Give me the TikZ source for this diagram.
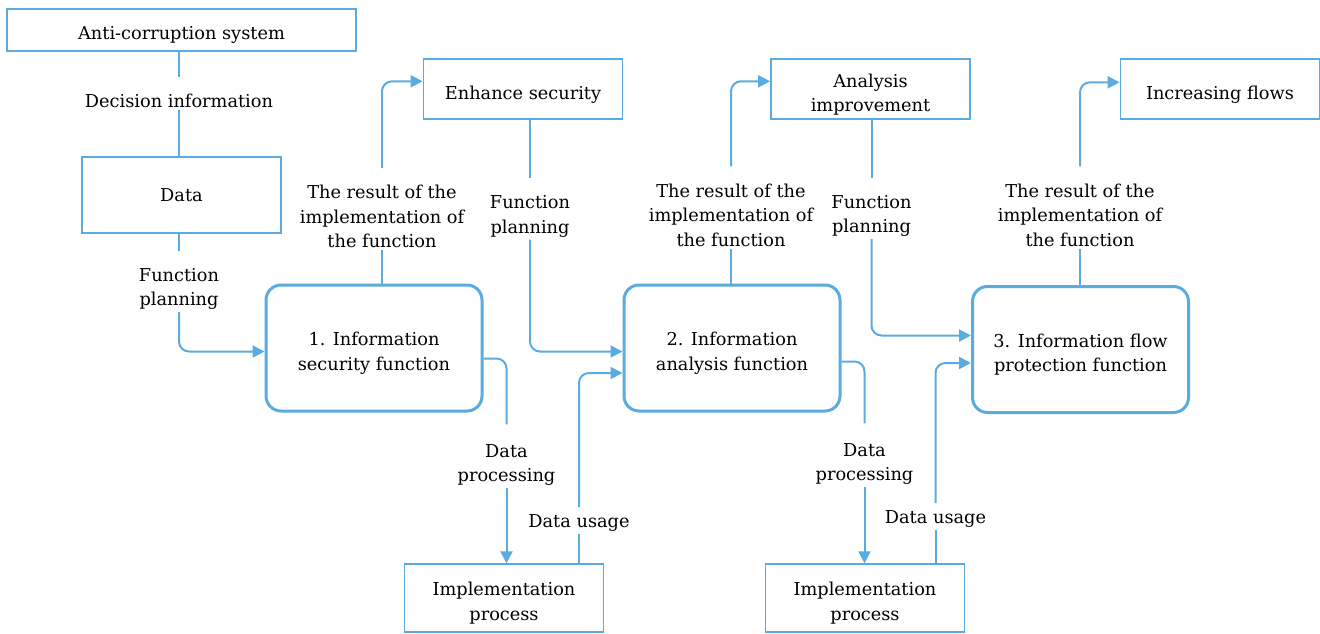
\documentclass[tikz,border=0pt]{standalone}
\usepackage{fontspec}
\setmainfont{DejaVu Serif}
\usetikzlibrary{arrows.meta}
\definecolor{flowblue}{RGB}{90,172,224}
\newcommand{\lowertext}[1]{\raisebox{-3pt}[\height][\depth]{#1}}

\begin{document}
\begin{tikzpicture}[
    font=\fontsize{10.1}{13.9}\selectfont,
    box/.style={draw=flowblue, line width=0.035cm, minimum width=3.98cm, minimum height=1.20cm, align=center, inner sep=0pt},
    func/.style={draw=flowblue, line width=0.06cm, rounded corners=0.3cm, minimum width=4.32cm, minimum height=2.52cm, align=center},
    lbl/.style={align=center, inner sep=0.04cm},
    link/.style={draw=flowblue, line width=0.04cm, rounded corners=0.2cm},
    flow/.style={link, -{Triangle[length=0.24cm, width=0.24cm]}},
    ]
    \useasboundingbox (0,0) rectangle (26.4,12.66);

    % Drawing the outer boxes
    \node[box, minimum width=6.98cm, minimum height=0.84cm] (anti) at (3.63,12.06) {\lowertext{Anti-corruption system}};%
    \node[box, minimum height=1.52cm] (data) at (3.63,8.76) {Data};%
    \node[box] (sec) at (10.46,10.874) {\lowertext{Enhance security}};%
    \node[box] (ana) at (17.41,10.874) {\lowertext{Analysis}\\\lowertext{improvement}};%
    \node[box] (flows) at (24.40,10.874) {\lowertext{Increasing flows}};%
    \node[box, minimum height=1.35cm] (impl1) at (10.08,0.70) {\lowertext{Implementation}\\\lowertext{process}};%
    \node[box, minimum height=1.35cm] (impl2) at (17.30,0.70) {\lowertext{Implementation}\\\lowertext{process}};%

    % Drawing the three functions
    \node[func] (fn1) at (7.48,5.70) {\lowertext{1. Information}\\\lowertext{security function}};%
    \node[func] (fn2) at (14.64,5.70) {\lowertext{2. Information}\\\lowertext{analysis function}};%
    \node[func] (fn3) at (21.61,5.67) {\lowertext{3. Information flow}\\\lowertext{protection function}};%

    % Marking the connector labels
    \node[lbl] (dec) at (3.58,10.64) {Decision information};%
    \node[lbl] (plan1) at (3.58,6.88) {Function\\planning};%
    \node[lbl] (res1) at (7.64,8.33) {The result of the\\implementation of\\the function};%
    \node[lbl] (plan2) at (10.60,8.33) {Function\\planning};%
    \node[lbl] (res2) at (14.62,8.36) {The result of the\\implementation of\\the function};%
    \node[lbl] (plan3) at (17.43,8.34) {Function\\planning};%
    \node[lbl] (res3) at (21.60,8.36) {The result of the\\implementation of\\the function};%
    \node[lbl] (proc1) at (10.13,3.36) {Data\\processing};%
    \node[lbl] (use1) at (11.58,2.20) {Data usage};%
    \node[lbl] (proc2) at (17.29,3.38) {Data\\processing};%
    \node[lbl] (use2) at (18.71,2.28) {Data usage};%

    % Drawing system -> data
    \draw[link] (anti.south -| dec) -- ([yshift=0.3cm]dec.north);%
    \draw[link] (dec) -- (data.north -| dec);%

    % Drawing data -> function 1
    \draw[link] (data.south -| plan1) -- ([yshift=0.3cm]plan1.north);%
    \draw[flow] (plan1) |- ([yshift=-0.07cm]fn1.west);%

    % Drawing function 1 -> security
    \draw[link] (fn1.north -| res1) -- (res1);%
    \draw[flow] ([yshift=0.3cm]res1.north) |- ([yshift=0.16cm]sec.west);%

    % Drawing security -> function 2
    \draw[link] (sec.south -| plan2) -- ([yshift=0.3cm]plan2.north);%
    \draw[flow] (plan2) |- ([yshift=-0.07cm]fn2.west);%

    % Drawing function 1 -> implementation 1 -> function 2
    \draw[link] ([yshift=-0.21cm]fn1.east) -| ([yshift=0.35cm]proc1.north);%
    \draw[flow] (proc1) -- (impl1.north -| proc1);%
    \draw[link] (impl1.north -| use1) -- (use1);%
    \draw[flow] ([yshift=0.1cm]use1.north) |- ([yshift=-0.5cm]fn2.west);%

    % Drawing function 2 -> analysis
    \draw[link] (fn2.north -| res2) -- (res2);%
    \draw[flow] ([yshift=0.3cm]res2.north) |- ([yshift=0.16cm]ana.west);%

    % Drawing analysis -> function 3
    \draw[link] (ana.south -| plan3) -- ([yshift=0.3cm]plan3.north);%
    \draw[flow] (plan3) |- ([yshift=0.28cm]fn3.west);%

    % Drawing function 2 -> implementation 2 -> function 3
    \draw[link] ([yshift=-0.27cm]fn2.east) -| ([yshift=0.35cm]proc2.north);%
    \draw[flow] (proc2) -- (impl2.north -| proc2);%
    \draw[link] (impl2.north -| use2) -- (use2);%
    \draw[flow] ([yshift=0.1cm]use2.north) |- ([yshift=-0.27cm]fn3.west);%

    % Drawing function 3 -> flows
    \draw[link] (fn3.north -| res3) -- (res3);%
    \draw[flow] ([yshift=0.3cm]res3.north) |- ([yshift=0.14cm]flows.west);%
\end{tikzpicture}
\end{document}
